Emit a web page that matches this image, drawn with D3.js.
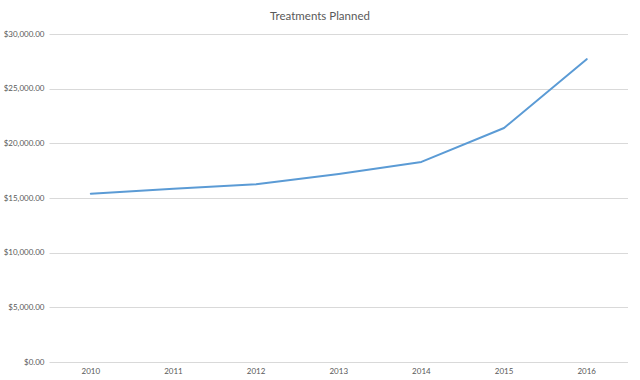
<!DOCTYPE html>
<html lang="en">
<head>
    <meta charset="UTF-8">
    <title>Treatments Planned</title>
    <script src="https://cdnjs.cloudflare.com/ajax/libs/d3/7.8.5/d3.min.js"></script>
    <style>
        body { margin: 0; background: white; }
        svg { display: block; }
        text { font-family: Lato, 'Open Sans', sans-serif; fill: #595959; }
        .grid line { stroke: #d9d9d9; stroke-width: 1px; }
        .axis text { font-size: 8px; }
        .title { font-size: 11.5px; }
    </style>
</head>
<body>
<svg id="chart" width="640" height="380"></svg>
<script>
    "use strict";

    const years = ["2010", "2011", "2012", "2013", "2014", "2015", "2016"];
    const planned = [15400, 15850, 16250, 17200, 18300, 21400, 27700];
    const yTicks = [0, 5000, 10000, 15000, 20000, 25000, 30000];

    const width = 640, height = 380;
    const margin = { top: 34, right: 12, bottom: 18, left: 49.5 };

    const svg = d3.select("#chart");

    const x = d3.scaleBand()
        .domain(years)
        .range([margin.left, width - margin.right]);

    const y = d3.scaleLinear()
        .domain([0, 30000])
        .range([height - margin.bottom, margin.top]);

    const fmt = v => "$" + d3.format(",.2f")(v);

    // horizontal gridlines
    svg.append("g")
        .attr("class", "grid")
        .selectAll("line")
        .data(yTicks)
        .join("line")
        .attr("x1", margin.left)
        .attr("x2", width - margin.right)
        .attr("y1", d => Math.round(y(d)) + 0.5)
        .attr("y2", d => Math.round(y(d)) + 0.5);

    // y labels
    svg.append("g")
        .attr("class", "axis")
        .selectAll("text")
        .data(yTicks)
        .join("text")
        .attr("x", margin.left - 5)
        .attr("y", d => y(d))
        .attr("dy", "0.35em")
        .attr("text-anchor", "end")
        .text(fmt);

    // x labels
    svg.append("g")
        .attr("class", "axis")
        .selectAll("text")
        .data(years)
        .join("text")
        .attr("x", d => x(d) + x.bandwidth() / 2)
        .attr("y", height - margin.bottom + 12)
        .attr("text-anchor", "middle")
        .text(d => d);

    // series line
    const line = d3.line()
        .x((d, i) => x(years[i]) + x.bandwidth() / 2)
        .y(d => y(d));

    svg.append("path")
        .datum(planned)
        .attr("fill", "none")
        .attr("stroke", "#5b9bd5")
        .attr("stroke-width", 2)
        .attr("stroke-linejoin", "round")
        .attr("stroke-linecap", "round")
        .attr("d", line);

    svg.append("text")
        .attr("class", "title")
        .attr("x", width / 2)
        .attr("y", 20)
        .attr("text-anchor", "middle")
        .text("Treatments Planned");
</script>
</body>
</html>
